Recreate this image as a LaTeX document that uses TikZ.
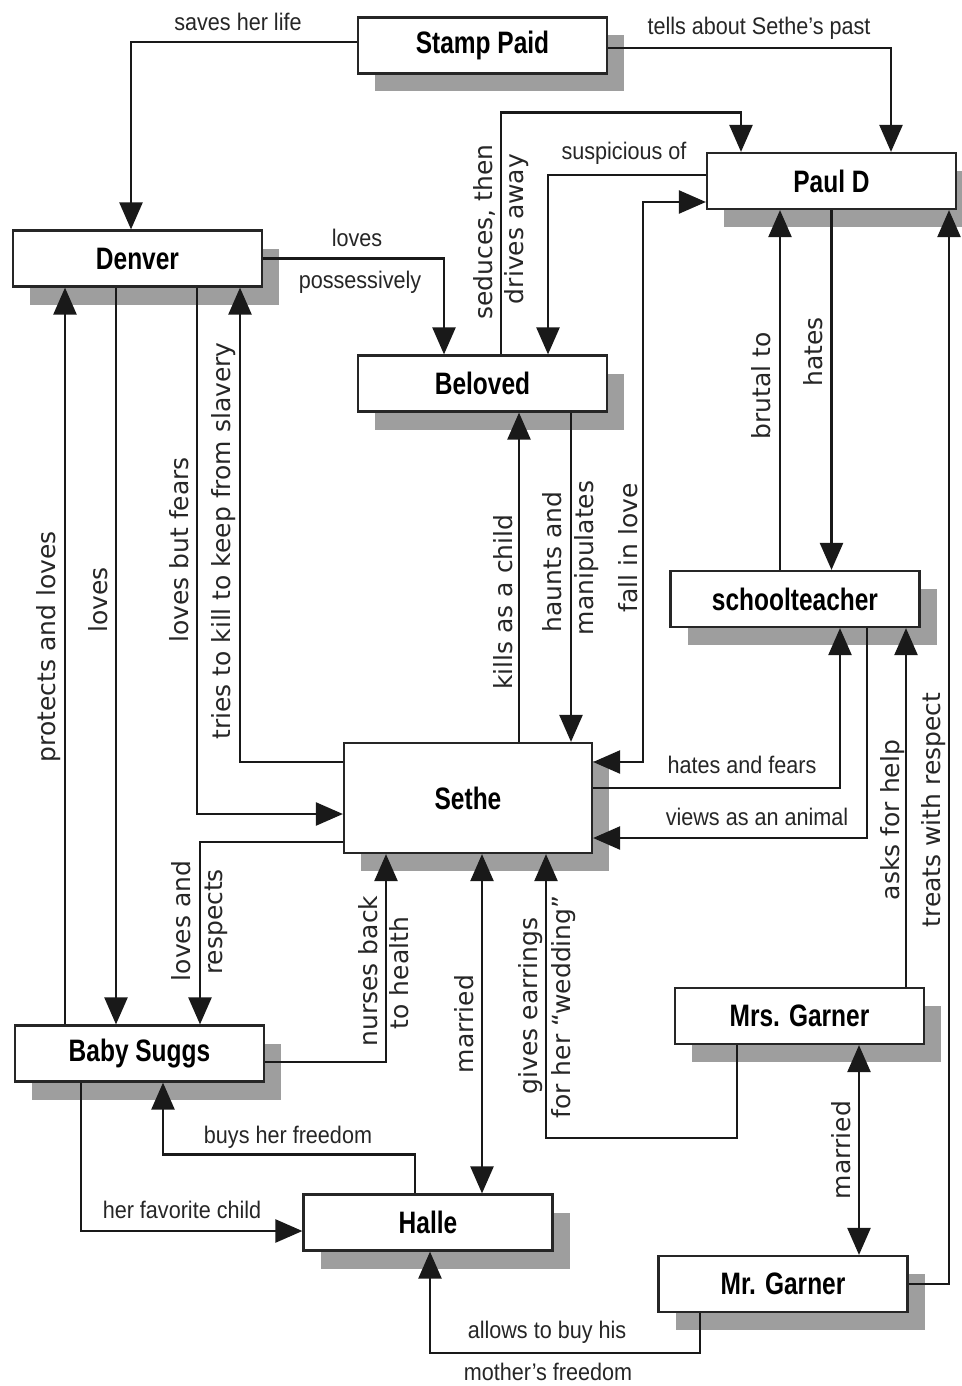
\documentclass[tikz,border=0pt]{standalone}
\usepackage{fontspec}
\usetikzlibrary{arrows.meta,shadows}
\newfontfamily\lblfont[FakeStretch=0.9]{Liberation Sans}
\newfontfamily\boxfont[FakeStretch=0.79]{Liberation Sans}
\newfontfamily\rotfont{DejaVu Sans}
\begin{document}
\begin{tikzpicture}[x=1pt,y=-1pt,
  box/.style={draw=black!85, line width=2.2pt, fill=white, minimum width=249pt,
    minimum height=56pt, inner sep=0pt,
    font=\boxfont\bfseries\fontsize{31}{31}\selectfont,
    drop shadow={shadow xshift=17pt, shadow yshift=-18pt, fill=black!38, opacity=1}},
  lbl/.style={font=\lblfont\fontsize{24}{24}\selectfont, text=black!85, inner sep=0pt, anchor=base},
  rlbl/.style={font=\rotfont\fontsize{25}{25}\selectfont, text=black!85, inner sep=0pt, rotate=90, anchor=base},
  conn/.style={line width=2.4pt, draw=black!90},
  arr/.style={conn, -{Triangle[width=23pt,length=27pt]}},
  darr/.style={conn, {Triangle[width=23pt,length=27pt]}-{Triangle[width=23pt,length=27pt]}}
]
\useasboundingbox[fill=white] (0,0) rectangle (961,1386);

% boxes
\node[box] (stamp)  at (482.5,45.5)  {Stamp Paid};
\node[box] (denver) at (137.5,258.5) {Denver};
\node[box] (beloved) at (482.5,383.5) {Beloved};
\node[box] (pauld)  at (831.5,181)   {Paul D};
\node[box] (school) at (795,599)     {schoolteacher};
\node[box, minimum width=248pt, minimum height=110pt] (sethe) at (468,798) {Sethe};
\node[box] (baby)   at (139.5,1053.5) {Baby Suggs};
\node[box] (halle)  at (428,1222.5)  {Halle};
\node[box] (mrsg)   at (799.5,1016)  {Mrs. Garner};
\node[box] (mrg)    at (783,1284)    {Mr. Garner};

% connectors
\draw[arr] ([yshift=3.5pt]stamp.west) -| ([xshift=-6.5pt]denver.north);
\draw[arr] ([yshift=-2.5pt]stamp.east) -| ([xshift=59.5pt]pauld.north);
\draw[arr] (denver.east) -| ([xshift=-38.5pt]beloved.north);
\draw[arr] ([xshift=18.5pt]beloved.north) -- ++(0,-242) -| ([xshift=-90.5pt]pauld.north);
\draw[arr] ([yshift=6pt]pauld.west) -| ([xshift=65.5pt]beloved.north);
\draw[darr] ([yshift=-21pt]pauld.west) -- ++(-63,0) |- ([yshift=36pt]sethe.east);
\draw[arr] (pauld.south) -- (pauld.south |- school.north);
\draw[arr] ([xshift=-15pt]school.north) -- ([xshift=-15pt]school.north |- pauld.south);
\draw[arr] (mrg.east) -| ([xshift=117.5pt]pauld.south);
\draw[arr] ([xshift=106.5pt]mrsg.north) -- ([xshift=106.5pt]mrsg.north |- school.south);
\draw[arr] ([yshift=10pt]sethe.east) -| ([xshift=45pt]school.south);
\draw[arr] ([xshift=72pt]school.south) |- ([yshift=-40pt]sethe.east);
\draw[arr] ([xshift=51pt]sethe.north) -- ([xshift=51pt]sethe.north |- beloved.south);
\draw[arr] ([xshift=88.5pt]beloved.south) -- ([xshift=88.5pt]beloved.south |- sethe.north);
\draw[arr] ([yshift=36pt]sethe.west) -| ([xshift=102.5pt]denver.south);
\draw[arr] ([xshift=59.5pt]denver.south) |- ([yshift=-16pt]sethe.west);
\draw[arr] ([xshift=-21.5pt]denver.south) -- ([xshift=-21.5pt]denver.south |- baby.north);
\draw[arr] ([xshift=-74.5pt]baby.north) -- ([xshift=-74.5pt]baby.north |- denver.south);
\draw[arr] ([yshift=-44pt]sethe.west) -| ([xshift=60.5pt]baby.north);
\draw[arr] ([yshift=-8.5pt]baby.east) -| ([xshift=-82pt]sethe.south);
\draw[darr] ([xshift=14pt]sethe.south) -- ([xshift=14pt]sethe.south |- halle.north);
\draw[arr] ([xshift=-62.5pt]mrsg.south) -- ++(0,93) -| ([xshift=78pt]sethe.south);
\draw[darr] ([xshift=59.5pt]mrsg.south) -- ([xshift=59.5pt]mrsg.south |- mrg.north);
\draw[arr] ([xshift=-13pt]halle.north) -- ++(0,-39) -| ([xshift=23.5pt]baby.south);
\draw[arr] ([xshift=-58.5pt]baby.south) |- ([yshift=-8.5pt]halle.west);
\draw[arr] ([xshift=-83pt]mrg.south) -- ++(0,40) -| ([xshift=2pt]halle.south);

% horizontal labels
\node[lbl] (l1) at (238,31) {saves her life};
\node[lbl] (l2) at (759,35) {tells about Sethe’s past};
\node[lbl] (l3) at (357,246) {loves};
\node[lbl] (l4) at (360,288) {possessively};
\node[lbl] (l5) at (624,160) {suspicious of};
\node[lbl] (l6) at (742,773) {hates and fears};
\node[lbl] (l7) at (757,825) {views as an animal};
\node[lbl] (l8) at (288,1143) {buys her freedom};
\node[lbl] (l9) at (182,1218) {her favorite child};
\node[lbl] (l10) at (547,1338) {allows to buy his};
\node[lbl] (l11) at (548,1380) {mother’s freedom};

% rotated labels
\node[rlbl] (r1) at (55,647) {protects and loves};
\node[rlbl] (r2) at (107,600) {loves};
\node[rlbl] (r3) at (188,550) {loves but fears};
\node[rlbl] (r4) at (230,541) {tries to kill to keep from slavery};
\node[rlbl] (r5) at (492,232) {seduces, then};
\node[rlbl] (r6) at (523,229) {drives away};
\node[rlbl] (r7) at (822,352) {hates};
\node[rlbl] (r8) at (770,386) {brutal to};
\node[rlbl] (r9) at (512,602) {kills as a child};
\node[rlbl] (r10) at (561,562) {haunts and};
\node[rlbl] (r11) at (593,558) {manipulates};
\node[rlbl] (r12) at (637,548) {fall in love};
\node[rlbl] (r13) at (899,820) {asks for help};
\node[rlbl] (r14) at (940,810) {treats with respect};
\node[rlbl] (r15) at (190,921) {loves and};
\node[rlbl] (r16) at (222,922) {respects};
\node[rlbl] (r17) at (377,971) {nurses back};
\node[rlbl] (r18) at (408,973) {to health};
\node[rlbl] (r19) at (473,1024) {married};
\node[rlbl] (r20) at (537,1006) {gives earrings};
\node[rlbl] (r21) at (570,1007) {for her “wedding”};
\node[rlbl] (r22) at (850,1150) {married};
\end{tikzpicture}
\end{document}
